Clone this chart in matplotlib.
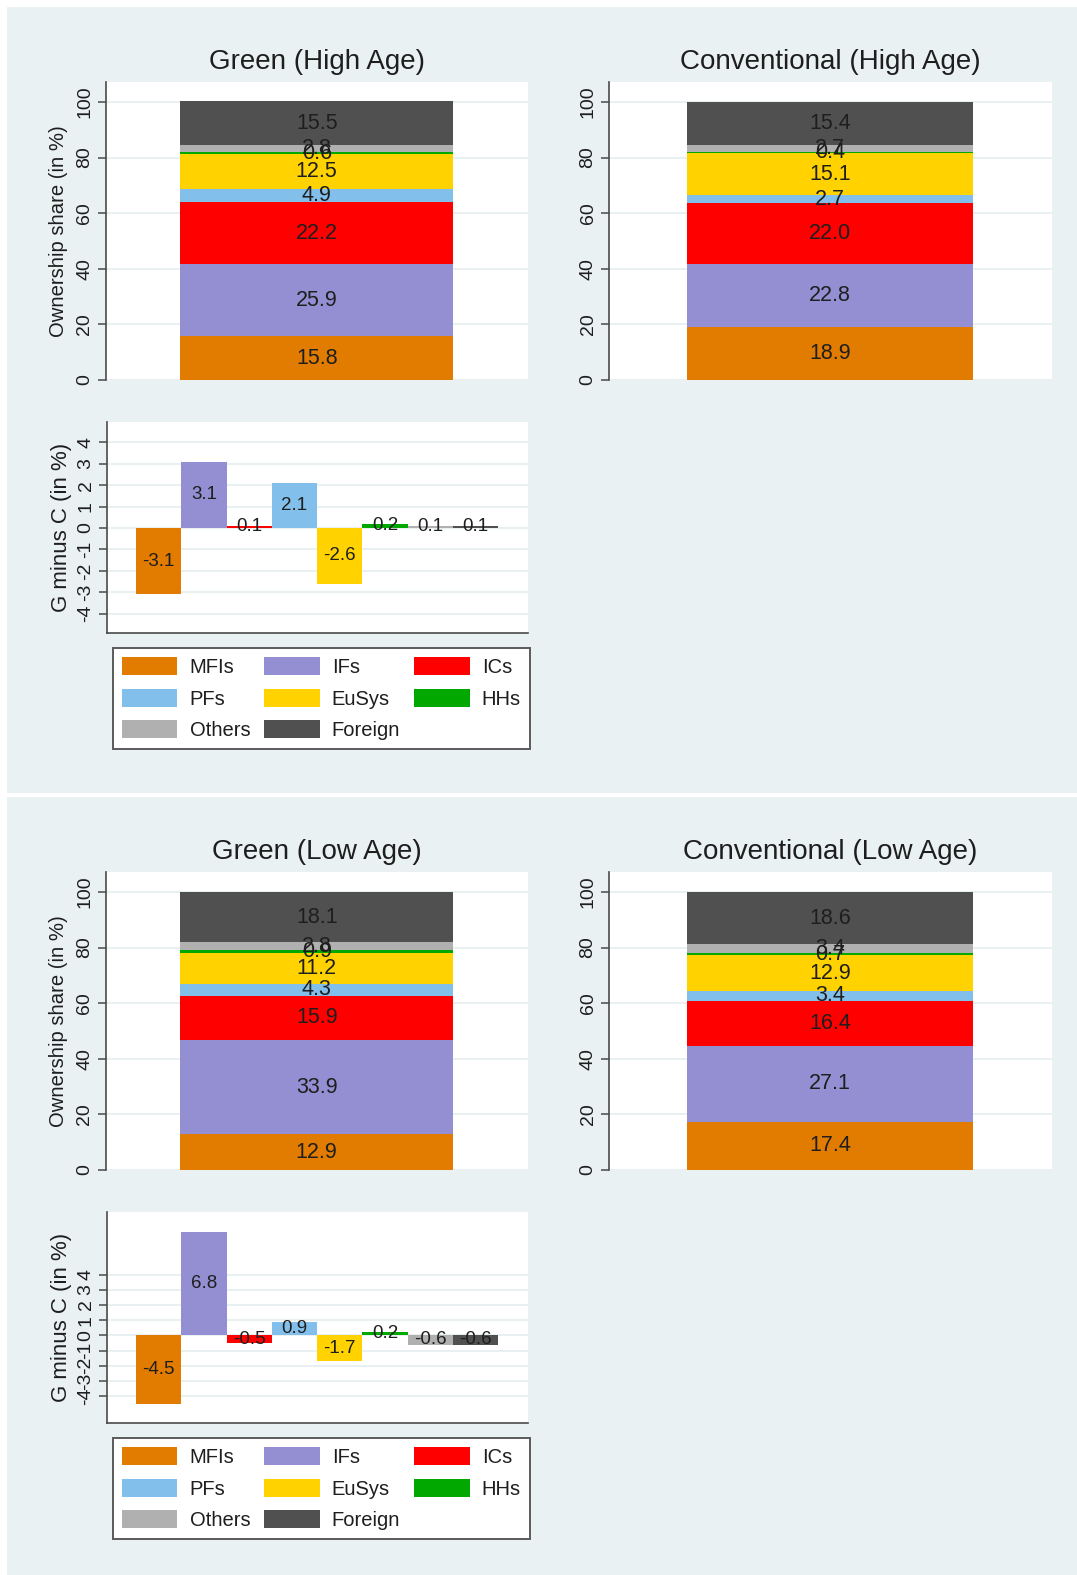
import numpy as np
import matplotlib
matplotlib.use("Agg")
import matplotlib.pyplot as plt
from matplotlib import font_manager
from matplotlib.patches import Rectangle, Patch

# ---- data -------------------------------------------------------------
categories = ["MFIs", "IFs", "ICs", "PFs", "EuSys", "HHs", "Others", "Foreign"]

green_high = [15.8, 25.9, 22.2, 4.9, 12.5, 0.6, 2.8, 15.5]
conv_high = [18.9, 22.8, 22.0, 2.7, 15.1, 0.4, 2.7, 15.4]
diff_high = [-3.1, 3.1, 0.1, 2.1, -2.6, 0.2, 0.1, 0.1]

green_low = [12.9, 33.9, 15.9, 4.3, 11.2, 0.9, 2.8, 18.1]
conv_low = [17.4, 27.1, 16.4, 3.4, 12.9, 0.7, 3.4, 18.6]
diff_low = [-4.5, 6.8, -0.5, 0.9, -1.7, 0.2, -0.6, -0.6]

share_ticks = [0, 20, 40, 60, 80, 100]
diff_ticks = [-4, -3, -2, -1, 0, 1, 2, 3, 4]

# ---- style ------------------------------------------------------------
colors = ["#E27C00", "#948FD2", "#FF0000", "#82BFEA",
          "#FFD200", "#00A800", "#B0B0B0", "#505050"]
BG = "#EAF1F3"
GRID = "#E4EDF0"
TXT = "#1E1E1E"
AX = "#4A4A4A"

names = {f.name for f in font_manager.fontManager.ttflist}
FONT = "Liberation Sans Narrow" if "Liberation Sans Narrow" in names else "Liberation Sans"
plt.rcParams["font.family"] = [FONT, "DejaVu Sans"]

W, H = 1077, 1575
fig = plt.figure(figsize=(W / 100, H / 100), dpi=100, facecolor="white")


def add_px_axes(x0, y0, x1, y1):
    return fig.add_axes([x0 / W, 1 - y1 / H, (x1 - x0) / W, (y1 - y0) / H])


def style_axis(ax, ticks, bottom_spine):
    ax.set_facecolor("white")
    for s in ["top", "right"]:
        ax.spines[s].set_visible(False)
    ax.spines["bottom"].set_visible(bottom_spine)
    ax.spines["left"].set_color(AX)
    ax.spines["left"].set_linewidth(1.2)
    if bottom_spine:
        ax.spines["bottom"].set_color(AX)
        ax.spines["bottom"].set_linewidth(1.2)
    ax.set_yticks(ticks)
    ax.set_yticklabels([str(t) for t in ticks])
    ax.tick_params(axis="y", length=6, width=1.1, color=AX, pad=3,
                   labelsize=14, labelcolor=TXT)
    for lab in ax.get_yticklabels():
        lab.set_rotation(90)
        lab.set_va("center")
    ax.set_xticks([])
    ax.grid(axis="y", color=GRID, linewidth=1.2)
    ax.set_axisbelow(True)


def stacked_panel(ax, values, title, ylabel):
    bottoms = np.concatenate([[0], np.cumsum(values)[:-1]])
    for v, b, c in zip(values, bottoms, colors):
        bars = ax.bar([0], [v], bottom=[b], width=1.0, color=c, linewidth=0)
        ax.bar_label(bars, labels=[f"{v:.1f}"], label_type="center",
                     fontsize=15.5, color=TXT)
    ax.set_xlim(-0.772, 0.774)
    ax.set_ylim(0, 107.2)
    style_axis(ax, share_ticks, bottom_spine=False)
    ax.text(0.5, 1 + 20 / 298, title, transform=ax.transAxes, ha="center",
            va="center", fontsize=20, color=TXT)
    if ylabel:
        ax.set_ylabel(ylabel, fontsize=14.6, color=TXT, labelpad=6)


def diff_panel(ax, values, ylim):
    x = np.arange(len(values))
    bars = ax.bar(x, values, width=1.0, color=colors, linewidth=0)
    ax.bar_label(bars, labels=[f"{v:.1f}" for v in values], label_type="center",
                 fontsize=13.5, color=TXT)
    ax.set_xlim(-1.14, 8.16)
    ax.set_ylim(*ylim)
    style_axis(ax, diff_ticks, bottom_spine=True)
    ax.set_ylabel("G minus C (in %)", fontsize=16, color=TXT, labelpad=4)


def legend_box(top):
    order = [0, 3, 6, 1, 4, 7, 2, 5]
    handles = [Patch(facecolor=colors[i], edgecolor="none") for i in order]
    labels = [categories[i] for i in order]
    leg = fig.legend(handles, labels, ncol=3, loc="upper left",
                     bbox_to_anchor=(113 / W, 1 - top / H), borderaxespad=0,
                     fontsize=14.5, frameon=True, fancybox=False,
                     handlelength=2.75, handleheight=1.0, handletextpad=0.6,
                     columnspacing=0.7, labelspacing=0.58, borderpad=0.45)
    fr = leg.get_frame()
    fr.set_edgecolor("#5A5A5A")
    fr.set_linewidth(1.4)
    fr.set_facecolor("white")
    fr.set_alpha(1)
    for t in leg.get_texts():
        t.set_color(TXT)


# panel backgrounds
for y0, y1 in [(7, 793), (797, 1575)]:
    fig.patches.append(Rectangle((7 / W, 1 - y1 / H), (1077 - 7) / W, (y1 - y0) / H,
                                 transform=fig.transFigure, facecolor=BG,
                                 edgecolor="none", zorder=-10))

panels = [
    (0, green_high, conv_high, diff_high, "High Age", (-4.9, 4.95)),
    (790, green_low, conv_low, diff_low, "Low Age", (-5.77, 8.13)),
]

for off, g, c, d, age, dlim in panels:
    ax_g = add_px_axes(106, 82 + off, 528, 380 + off)
    stacked_panel(ax_g, g, f"Green ({age})", "Ownership share (in %)")
    ax_c = add_px_axes(609, 82 + off, 1052, 380 + off)
    stacked_panel(ax_c, c, f"Conventional ({age})", None)
    ax_d = add_px_axes(107, 422 + off, 528, 633 + off)
    diff_panel(ax_d, d, dlim)
    legend_box(648 + off)

fig.savefig("out.png", dpi=100, facecolor="white")
